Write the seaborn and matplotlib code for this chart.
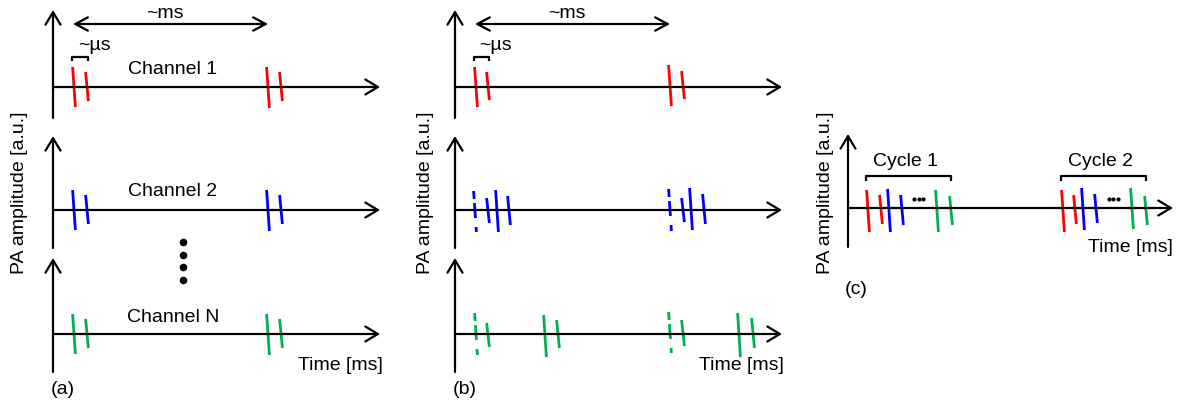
import numpy as np
import pandas as pd
import matplotlib
matplotlib.use("Agg")
import matplotlib.pyplot as plt
import seaborn as sns

# ---------------- data (time units from each axis origin, amplitude units) ----
RED, BLUE, GREEN = "#FF0000", "#0000FF", "#00B050"

# Panel (a): every channel fires its pulse pair at the same times
a_times = [21, 34, 215, 228]
a_up = [20, 15, 20, 15]
a_down = [20, 14, 21, 14]
a_channels = ["Channel 1", "Channel 2", "Channel N"]
a_colors = [RED, BLUE, GREEN]

# Panel (b): channels interleaved in time
b_red_times = [21, 33, 215, 228]
b_red_up = [20, 15, 22, 16]
b_red_down = [20, 13, 19, 12]
b_red_dashed = [0, 0, 0, 0]

b_blue_times = [20, 33, 42, 54, 215, 228, 236, 249]
b_blue_up = [19, 12, 20, 14, 21, 12, 22, 16]
b_blue_down = [22, 13, 22, 15, 21, 12, 20, 14]
b_blue_dashed = [1, 0, 0, 0, 1, 0, 0, 0]

b_green_times = [21, 33, 90, 103, 215, 228, 284, 298]
b_green_up = [21, 11, 19, 14, 22, 14, 21, 16]
b_green_down = [21, 13, 23, 14, 19, 12, 23, 14]
b_green_dashed = [1, 0, 0, 0, 1, 0, 0, 0]

# Panel (c): all channels on one time axis, two cycles
c_times = [20, 33, 41, 54, 89, 103, 215, 227, 235, 248, 284, 298]
c_colors = [RED, RED, BLUE, BLUE, GREEN, GREEN] * 2
c_up = [18, 13, 19, 13, 18, 12, 18, 13, 20, 14, 20, 12]
c_down = [24, 16, 24, 17, 24, 17, 24, 16, 22, 15, 21, 17]
c_cycles = ["Cycle 1", "Cycle 2"]

# ---------------- layout (pixels) --------------------------------------------
W, H, DPI = 1178, 407, 100
FS = 14
SLANT = 1.4
LW_AX = 1.6
LW_P = 2.0

sns.set_theme(style="white")
plt.rcParams["font.family"] = ["Liberation Sans", "DejaVu Sans"]
plt.rcParams["text.color"] = "black"
plt.rcParams["lines.scale_dashes"] = False
plt.rcParams["lines.solid_capstyle"] = "butt"

fig = plt.figure(figsize=(W / DPI, H / DPI), dpi=DPI)
ax = fig.add_axes([0, 0, 1, 1])

rows = []  # pulse records


def add_pulses(x0, y0, times, ups, downs, colors, dashed, tag):
    for i, (t, u, d, c, ds) in enumerate(zip(times, ups, downs, colors, dashed)):
        pid = f"{tag}-{i}"
        rows.append(dict(x=x0 + t - SLANT, y=y0 - u, pid=pid, color=c, dashed=ds))
        rows.append(dict(x=x0 + t + SLANT, y=y0 + d, pid=pid, color=c, dashed=ds))


def axis_arrows(x0, y0, ytop, ybot, xend):
    ap = dict(arrowstyle="->,head_length=0.75,head_width=0.45", lw=LW_AX,
              color="black", shrinkA=0, shrinkB=0, mutation_scale=12)
    ax.annotate("", xy=(x0, ytop), xytext=(x0, ybot), arrowprops=ap)
    ax.annotate("", xy=(xend, y0), xytext=(x0, y0), arrowprops=ap)


row_y = [87, 210, 334]
row_top = [10, 136, 258]
row_bot = [118, 248, 372]

# ---- panel (a)
xa = 53
for k in range(3):
    axis_arrows(xa, row_y[k], row_top[k], row_bot[k], 380)
    add_pulses(xa, row_y[k], a_times, a_up, a_down, [a_colors[k]] * 4, [0] * 4, f"a{k}")
    ax.text(xa + 120, row_y[k] - 17 - (2 if k == 1 else 0),
            a_channels[k], ha="center", va="center", fontsize=FS)

# ---- panel (b)
xb = 455
for k in range(3):
    axis_arrows(xb, row_y[k], row_top[k], row_bot[k], xb + 327)
add_pulses(xb, row_y[0], b_red_times, b_red_up, b_red_down, [RED] * 4, b_red_dashed, "b0")
add_pulses(xb, row_y[1], b_blue_times, b_blue_up, b_blue_down, [BLUE] * 8, b_blue_dashed, "b1")
add_pulses(xb, row_y[2], b_green_times, b_green_up, b_green_down, [GREEN] * 8, b_green_dashed, "b2")

# ---- panel (c)
xc, yc = 848, 208
axis_arrows(xc, yc, 134, 247, 1173)
add_pulses(xc, yc, c_times, c_up, c_down, c_colors, [0] * 12, "c")

df = pd.DataFrame(rows)
pal = {RED: RED, BLUE: BLUE, GREEN: GREEN}
sns.lineplot(data=df[df.dashed == 0], x="x", y="y", units="pid", hue="color",
             palette=pal, estimator=None, sort=False, legend=False,
             linewidth=LW_P, ax=ax)
sns.lineplot(data=df[df.dashed == 1], x="x", y="y", units="pid", hue="color",
             palette=pal, estimator=None, sort=False, legend=False,
             linewidth=LW_P, linestyle=(0, (5.8, 2.9, 10.8, 6.5)), ax=ax)

# ---- annotations for (a) and (b): ~ms arrow, ~us bracket
for x0, times in ((xa, a_times), (xb, b_red_times)):
    t0, t1, t2 = x0 + times[0], x0 + times[1], x0 + times[2]
    ax.annotate("", xy=(t2, 24), xytext=(t0 - 1, 24),
                arrowprops=dict(arrowstyle="<->,head_length=0.75,head_width=0.4",
                                lw=LW_AX, color="black", shrinkA=0, shrinkB=0,
                                mutation_scale=12))
    ax.text((t0 + t2) / 2 - 6, 14, "~ms", ha="center", va="center", fontsize=FS)
    ax.plot([t0 - 2, t0 - 2, t1 + 1, t1 + 1], [61, 57, 57, 61], color="black", lw=LW_AX)
    ax.text(t1 + 7, 45, "~µs", ha="center", va="center", fontsize=FS)

# vertical ellipsis between Channel 2 and Channel N
n_dots = 4
ax.scatter([183] * n_dots, 242 + 12.7 * np.arange(n_dots), s=30, color="black",
           zorder=3, linewidths=0)

# panel (c) cycle brackets and dots
for j, name in enumerate(c_cycles):
    ts = c_times[6 * j: 6 * j + 6]
    l, r = xc + ts[0] - 2, xc + ts[-1]
    ax.plot([l, l, r, r], [181, 176, 176, 181], color="black", lw=LW_AX)
    ax.text((l + r) / 2 - 3, 161, name, ha="center", va="center", fontsize=FS)
    cx = xc + (ts[3] + ts[4]) / 2 - 1
    ax.scatter(cx + 4.5 * np.arange(-1, 2), [199] * 3, s=9, color="black",
               zorder=3, linewidths=0)

# axis titles and panel letters
for x in (20, 425, 826):
    ax.text(x, 193, "PA amplitude [a.u.]", rotation=90, ha="center", va="center",
            fontsize=FS)
for x, y in ((340, 365), (741, 366), (1130, 247)):
    ax.text(x, y, "Time [ms]", ha="center", va="center", fontsize=FS)
for (x, y), s in zip(((63, 390), (465, 390), (856, 290)), ("(a)", "(b)", "(c)")):
    ax.text(x, y, s, ha="center", va="center", fontsize=FS)

ax.set_xlim(0, W)
ax.set_ylim(H, 0)
ax.set_axis_off()
fig.savefig("out.png", dpi=DPI, facecolor="white")
